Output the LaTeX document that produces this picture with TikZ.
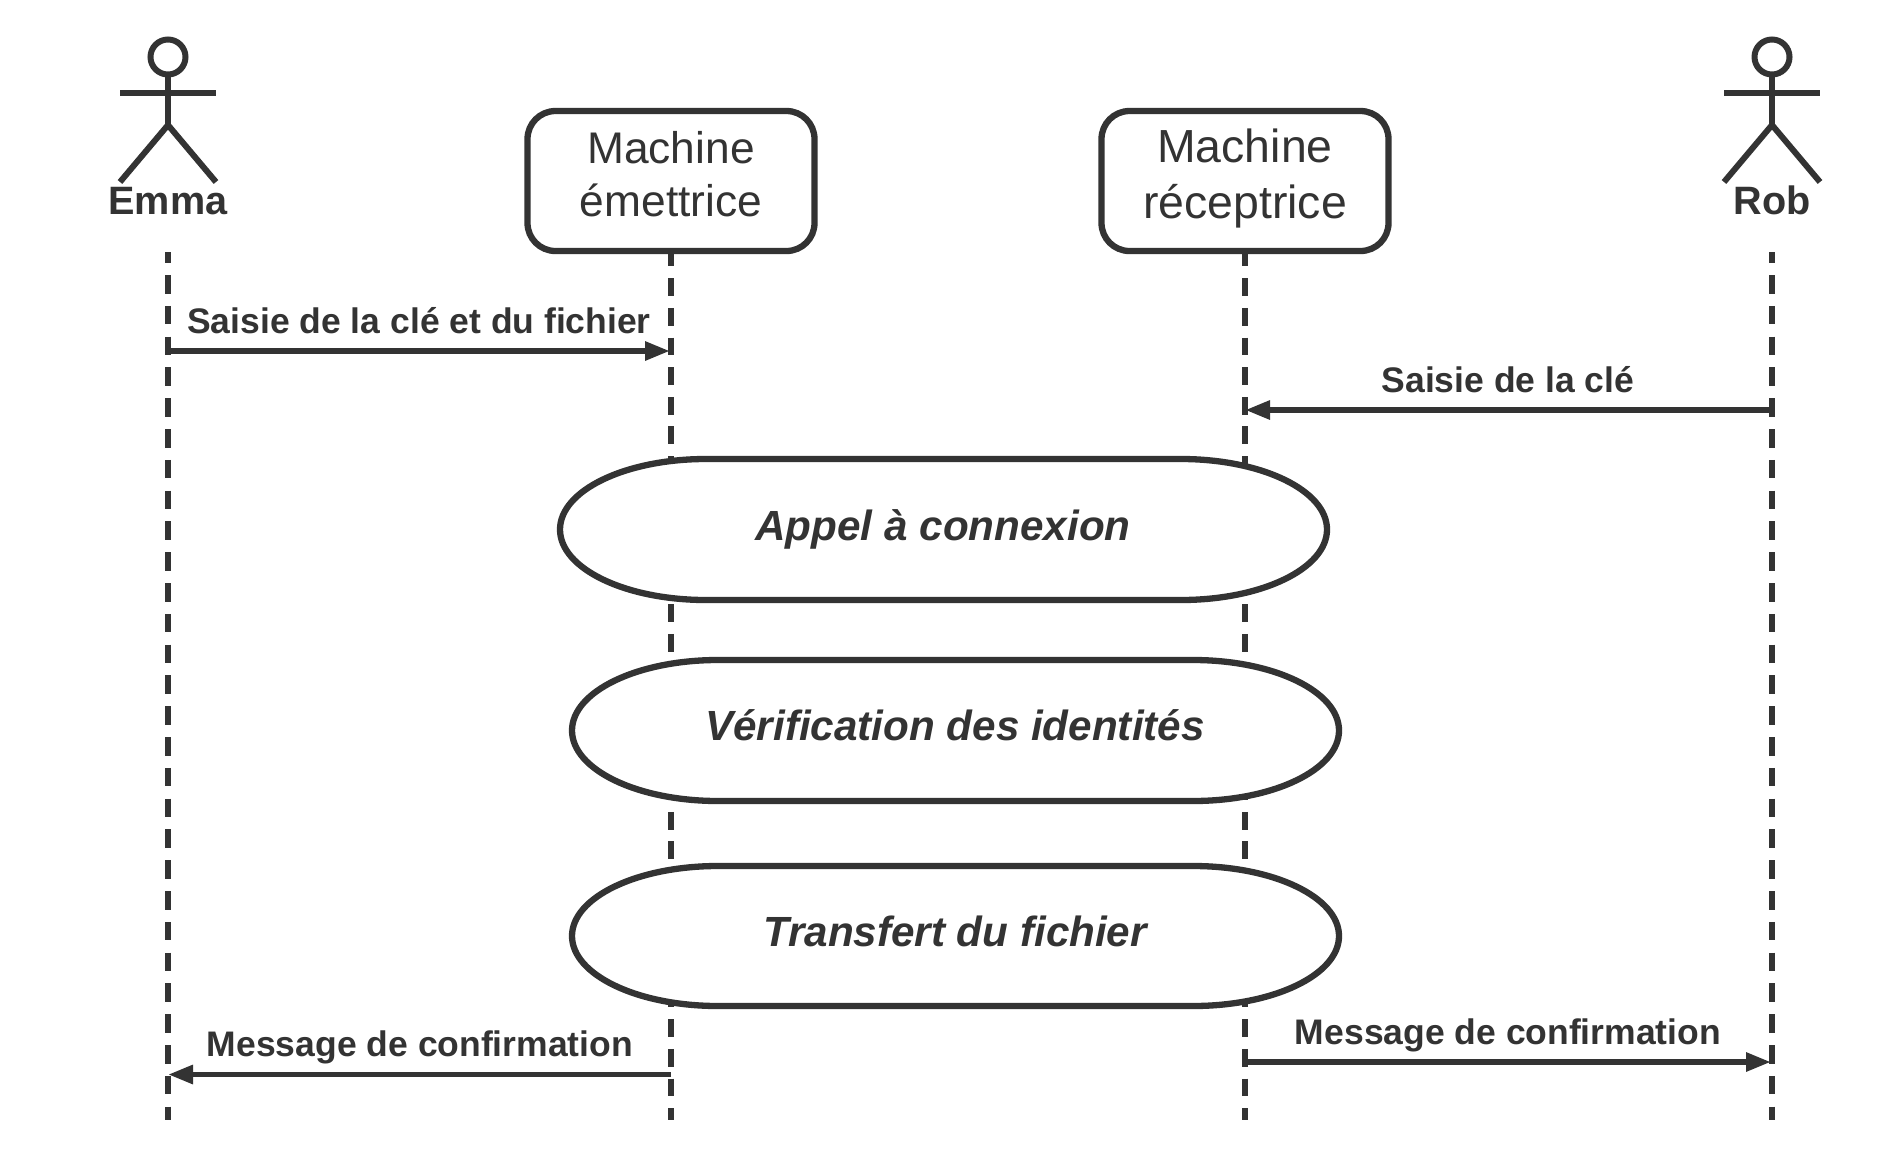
\documentclass[tikz,border=0pt]{standalone}
\usepackage{fontspec}
\setmainfont{Liberation Sans}
\usetikzlibrary{arrows.meta}
\definecolor{ink}{HTML}{333333}
\tikzset{
  x=1pt,y=-1pt,
  every node/.style={text=ink,inner sep=0pt},
  thick line/.style={draw=ink,line width=6.3pt},
  actorline/.style={draw=ink,line width=5.8pt,dash pattern=on 18.5pt off 12.3pt,dash phase=7.8pt},
  machineline/.style={draw=ink,line width=5.8pt,dash pattern=on 17.8pt off 11.84pt,dash phase=4.6pt},
  message/.style={draw=ink,line width=5.8pt,-{Triangle[length=25pt,width=18pt]}},
  actor/.style={draw=ink,line width=6pt},
  msglabel/.style={anchor=base,font=\fontsize{35.5}{35.5}\selectfont\bfseries},
  actorlabel/.style={anchor=base,font=\fontsize{39.6}{39.6}\selectfont\bfseries},
  machine/.style={thick line,fill=white,rounded corners=28pt,minimum width=287pt,minimum height=140pt,align=center},
  phase/.style={anchor=base,font=\fontsize{42.2}{42.2}\selectfont\bfseries\itshape},
}
\newcommand{\phasepath}[3]{% left x, top y, bottom y
  \pgfmathsetmacro{\pl}{#1}
  \pgfmathsetmacro{\pr}{#1+767}
  \pgfmathsetmacro{\pm}{(#2+#3)/2}
  \pgfmathsetmacro{\pk}{(#3-#2)/2*0.5523}
  \path[thick line,fill=white] (\pl+146,#2) -- (\pr-146,#2)
    .. controls (\pr-65,#2) and (\pr,\pm-\pk) .. (\pr,\pm)
    .. controls (\pr,\pm+\pk) and (\pr-65,#3) .. (\pr-146,#3)
    -- (\pl+146,#3)
    .. controls (\pl+65,#3) and (\pl,\pm+\pk) .. (\pl,\pm)
    .. controls (\pl,\pm-\pk) and (\pl+65,#2) .. (\pl+146,#2) -- cycle;}
\begin{document}
\begin{tikzpicture}
\useasboundingbox (0,0) rectangle (1890,1160);
% lifeline ends
\coordinate (emmatop) at (168,252);
\coordinate (emmabot) at (168,1120);
\coordinate (robtop) at (1772,252);
\coordinate (robbot) at (1772,1120);
\coordinate (mebot) at (671,1120);
\coordinate (mrbot) at (1245,1120);
% machines
\node[draw=none,minimum width=293pt,minimum height=144pt] (me) at (671,181) {};
\node[draw=none,minimum width=293pt,minimum height=144pt] (mr) at (1245,181) {};
% lifelines
\draw[actorline] (emmatop) -- (emmabot);
\draw[actorline] (robtop) -- (robbot);
\draw[machineline] (me.south) -- (mebot);
\draw[machineline] (mr.south) -- (mrbot);
\node[machine] at (me) {};
\node[machine] at (mr) {};
\node[anchor=base,font=\fontsize{44.3}{44.3}\selectfont] at (671,163) {Machine};
\node[anchor=base,font=\fontsize{44.3}{44.3}\selectfont] at (671,216) {émettrice};
\node[anchor=base,font=\fontsize{46.4}{46.4}\selectfont] at (1245,162) {Machine};
\node[anchor=base,font=\fontsize{46.4}{46.4}\selectfont] at (1245,218) {réceptrice};
% phases
\phasepath{560}{459}{600}
\phasepath{572}{660}{801}
\phasepath{572}{866}{1006}
\node[phase] (p1) at (943,540) {Appel à connexion};
\node[phase] (p2) at (955,740) {Vérification des identités};
\node[phase] (p3) at (955,946) {Transfert du fichier};
% actors
\foreach \n/\cx in {a/168,b/1772}{
  \draw[actor] (\cx,57) ellipse[x radius=17.5,y radius=17.5];
  \draw[actor] (\cx,75) -- (\cx,125);
  \draw[actor] (\cx-48,93) -- (\cx+48,93);
  \draw[actor] (\cx-48,182) -- (\cx,125) -- (\cx+48,182);
}
\node[actorlabel] (emma) at (168,214) {Emma};
\node[actorlabel] (rob) at (1772,214) {Rob};
% message anchors
\coordinate (m1a) at (168,351); \coordinate (m1b) at (671,351);
\coordinate (m2a) at (1772,410); \coordinate (m2b) at (1245,410);
\coordinate (m3a) at (671,1074.5); \coordinate (m3b) at (168,1074.5);
\coordinate (m4a) at (1245,1062); \coordinate (m4b) at (1772,1062);
\draw[message,shorten >=1pt] (m1a) -- (m1b);
\draw[message] (m2a) -- (m2b);
\draw[message] (m3a) -- (m3b);
\draw[message,shorten >=1pt] (m4a) -- (m4b);
\node[msglabel] at (419,333) {Saisie de la clé et du fichier};
\node[msglabel] at (1508,392) {Saisie de la clé};
\node[msglabel] at (420,1056) {Message de confirmation};
\node[msglabel] at (1508,1044) {Message de confirmation};
\end{tikzpicture}
\end{document}
